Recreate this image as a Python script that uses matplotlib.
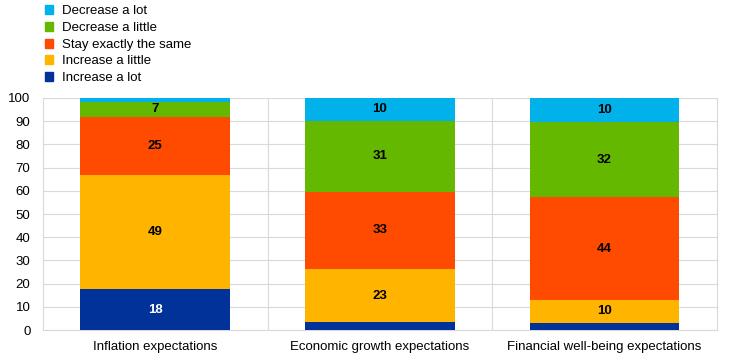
import numpy as np
import matplotlib
matplotlib.use("Agg")
import matplotlib.pyplot as plt
from matplotlib.patches import Patch

plt.rcParams['font.family'] = ['Liberation Sans Narrow', 'Liberation Sans', 'DejaVu Sans']

categories = ["Inflation expectations", "Economic growth expectations",
              "Financial well-being expectations"]
series = ["Increase a lot", "Increase a little", "Stay exactly the same",
          "Decrease a little", "Decrease a lot"]
increase_lot = [17.7, 3.5, 3.2]
increase_little = [49.3, 22.8, 9.7]
stay_same = [24.7, 33.4, 44.4]
decrease_little = [6.7, 30.6, 32.4]
decrease_lot = [1.6, 9.7, 10.3]
colors = ["#003299", "#ffb400", "#ff4b00", "#65b800", "#00b1ea"]

data = [increase_lot, increase_little, stay_same, decrease_little, decrease_lot]

fig = plt.figure(figsize=(7.42, 3.55), dpi=100)
ax = fig.add_axes([0.058, 0.07, 0.908, 0.654])

x = np.arange(len(categories))
bottom = np.zeros(len(categories))
for name, vals, c in zip(series, data, colors):
    vals = np.array(vals)
    ax.bar(x, vals, 0.667, bottom=bottom, color=c, zorder=3)
    # label only the segments that are wide enough
    for xi, b, v in zip(x, bottom, vals):
        if v >= 5:
            tc = "white" if c == "#003299" else "black"
            ax.text(xi, b + v / 2, "%d" % round(v), ha="center", va="center",
                    fontsize=9.5, fontweight="bold", color=tc, zorder=4)
    bottom += vals

ax.set_xlim(-0.5, 2.5)
ax.set_ylim(0, 100)
ax.set_yticks(range(0, 101, 10))
ax.set_xticks(x)
ax.set_xticklabels(categories)
ax.tick_params(length=0, labelsize=9.5)
ax.tick_params(axis="x", pad=8)
ax.tick_params(axis="y", pad=9)
ax.yaxis.grid(True, color="#d9d9d9", lw=0.8, zorder=0)
for xv in [0.5, 1.5]:
    ax.axvline(xv, color="#d9d9d9", lw=0.8, zorder=0)
for s in ax.spines.values():
    s.set_color("#d9d9d9")
    s.set_linewidth(0.8)
ax.spines['top'].set_visible(False)

handles = [Patch(color=c) for c in colors][::-1]
fig.legend(handles, series[::-1], loc="upper left", bbox_to_anchor=(0.05, 1.008),
           frameon=False, fontsize=9.5, handlelength=0.6, handleheight=0.7,
           handletextpad=0.7, labelspacing=0.34, borderaxespad=0.2)

fig.savefig("out.png", dpi=100)
